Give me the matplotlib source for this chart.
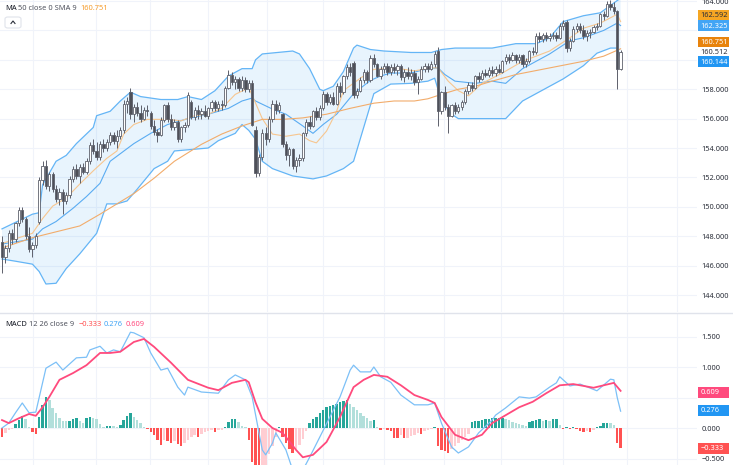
import matplotlib
matplotlib.use('Agg')
import numpy as np
import matplotlib.pyplot as plt
from matplotlib.lines import Line2D
from matplotlib.patches import Rectangle, FancyBboxPatch
from matplotlib.ticker import FuncFormatter

plt.rcParams['font.family'] = ['Noto Sans', 'DejaVu Sans']

# candles (one per bar, left to right)
opens = [
    147.6, 146.6, 147.2, 148.2, 147.8, 148.9, 149.8, 149.2, 148.0, 147.1,
    147.4, 149.0, 151.8, 152.8, 151.4, 152.2, 151.2, 150.5, 151.0, 150.4,
    150.8, 151.9, 152.6, 152.1, 152.7, 152.4, 153.1, 154.2, 153.8, 153.4,
    154.3, 154.0, 154.4, 154.9, 154.5, 154.8, 155.2, 157.0, 157.8, 156.3,
    156.8, 156.4, 156.0, 156.6, 156.4, 155.5, 155.1, 154.9, 155.9, 156.9,
    156.0, 155.4, 155.8, 154.6, 155.4, 155.6, 157.1, 156.1, 156.6, 156.3,
    156.5, 156.2, 156.7, 157.1, 156.7, 157.0, 156.9, 158.1, 159.0, 158.5,
    158.7, 158.1, 158.6, 158.0, 158.4, 155.2, 152.3, 153.4, 155.0, 154.6,
    156.0, 157.0, 156.6, 156.3, 154.3, 153.5, 153.9, 152.8, 153.2, 153.3,
    155.0, 155.8, 155.5, 156.5, 156.1, 156.7, 157.7, 157.1, 157.5, 157.0,
    158.2, 157.8, 158.9, 159.5, 159.8, 157.6, 157.9, 158.6, 159.2, 158.6,
    160.1, 159.7, 158.9, 159.4, 159.6, 159.2, 159.5, 159.3, 159.6, 158.8,
    159.2, 158.9, 159.1, 158.5, 158.7, 159.4, 159.6, 159.4, 159.7, 160.6,
    156.5, 157.8, 156.8, 156.2, 156.9, 156.5, 156.8, 157.1, 157.9, 158.3,
    158.1, 158.9, 158.7, 159.1, 159.0, 159.3, 159.1, 159.4, 159.2, 159.9,
    160.2, 160.0, 160.3, 160.0, 160.3, 159.7, 159.9, 160.6, 160.5, 161.6,
    161.4, 161.7, 161.5, 161.6, 161.7, 161.5, 162.3, 162.6, 160.8, 161.3,
    162.1, 162.3, 162.0, 161.6, 161.8, 161.9, 162.2, 162.3, 163.1, 163.0,
    163.8, 163.6, 163.3, 159.4,
]
highs = [
    148.0, 147.4, 148.4, 148.5, 149.0, 150.0, 150.0, 149.3, 148.6, 147.6,
    148.2, 152.0, 153.1, 153.2, 152.4, 152.4, 151.5, 151.3, 151.2, 151.0,
    152.1, 152.8, 152.9, 152.9, 153.0, 153.3, 154.4, 154.6, 154.4, 154.5,
    154.6, 154.6, 155.1, 155.1, 155.2, 155.4, 157.3, 157.5, 158.1, 157.0,
    157.1, 156.9, 156.8, 156.9, 156.5, 155.9, 155.3, 156.1, 157.0, 157.1,
    156.3, 156.0, 155.9, 155.5, 155.8, 157.8, 157.3, 156.8, 156.9, 156.7,
    156.9, 156.8, 157.3, 157.3, 157.2, 157.3, 158.2, 159.3, 159.2, 158.9,
    158.8, 158.9, 158.8, 158.6, 158.6, 155.5, 153.6, 155.3, 155.4, 156.2,
    157.3, 157.3, 157.1, 156.4, 154.5, 154.1, 154.0, 153.4, 153.6, 155.1,
    156.0, 156.2, 156.6, 156.8, 156.9, 157.9, 157.8, 157.7, 157.8, 158.4,
    158.5, 159.0, 159.7, 159.8, 159.9, 158.1, 158.8, 159.4, 159.3, 160.3,
    160.4, 159.8, 159.6, 159.8, 159.8, 159.7, 159.8, 159.7, 159.7, 159.4,
    159.5, 159.4, 159.3, 158.9, 159.6, 159.8, 159.8, 159.9, 160.6, 160.9,
    157.9, 158.2, 157.0, 157.0, 157.1, 157.0, 157.3, 158.0, 158.5, 158.5,
    159.0, 159.2, 159.3, 159.4, 159.5, 159.6, 159.6, 159.7, 160.0, 160.4,
    160.4, 160.5, 160.4, 160.4, 160.4, 160.1, 160.7, 160.9, 161.8, 161.9,
    161.8, 161.9, 161.8, 161.9, 161.9, 162.5, 162.7, 162.7, 161.5, 162.3,
    162.5, 162.5, 162.4, 162.0, 162.1, 162.4, 162.5, 163.2, 163.3, 164.0,
    164.1, 163.9, 163.4, 160.7,
]
lows = [
    145.5, 146.2, 146.9, 147.5, 147.6, 148.7, 149.0, 147.8, 146.9, 146.6,
    147.2, 148.8, 151.5, 151.2, 151.1, 151.0, 150.3, 150.1, 149.5, 150.2,
    150.6, 151.7, 151.9, 151.6, 152.2, 152.2, 152.9, 153.6, 153.2, 153.2,
    153.7, 153.8, 154.2, 154.3, 154.0, 154.6, 155.0, 156.4, 156.0, 155.8,
    156.2, 155.8, 155.9, 156.2, 155.3, 154.9, 154.4, 154.8, 155.8, 155.8,
    155.2, 155.2, 154.4, 154.4, 155.1, 155.4, 156.0, 155.9, 156.0, 156.0,
    156.1, 156.0, 156.5, 156.5, 156.5, 156.6, 156.8, 158.0, 158.3, 158.0,
    157.9, 157.9, 157.8, 157.8, 155.5, 152.0, 152.1, 153.2, 154.2, 154.4,
    155.8, 156.3, 156.4, 154.1, 153.2, 152.8, 152.6, 152.4, 152.8, 153.1,
    154.8, 155.3, 155.4, 155.9, 155.9, 156.6, 156.9, 157.0, 156.9, 156.9,
    157.5, 157.7, 158.7, 158.9, 157.4, 157.4, 157.8, 158.4, 158.4, 158.5,
    159.5, 158.8, 158.7, 159.1, 159.0, 159.0, 159.1, 159.0, 158.6, 158.5,
    158.7, 158.6, 158.3, 157.7, 158.6, 159.2, 159.2, 159.3, 159.5, 155.5,
    156.3, 156.6, 155.0, 156.1, 156.3, 156.4, 156.6, 157.0, 157.7, 157.9,
    158.0, 158.5, 158.6, 158.8, 158.8, 158.9, 158.9, 159.1, 159.1, 159.7,
    159.8, 159.9, 159.8, 159.8, 159.5, 159.5, 159.8, 160.3, 160.4, 161.2,
    161.2, 161.3, 161.3, 161.4, 161.3, 161.4, 162.0, 160.5, 160.6, 161.2,
    161.9, 161.8, 161.4, 161.3, 161.5, 161.8, 162.0, 162.2, 162.7, 162.9,
    163.4, 163.1, 158.0, 159.3,
]
closes = [
    146.6, 147.2, 148.2, 147.8, 148.9, 149.8, 149.2, 148.0, 147.1, 147.4,
    148.0, 151.8, 152.8, 151.4, 152.2, 151.2, 150.5, 151.0, 150.4, 150.8,
    151.9, 152.6, 152.1, 152.7, 152.4, 153.1, 154.2, 153.8, 153.4, 154.3,
    154.0, 154.4, 154.9, 154.5, 154.8, 155.2, 157.0, 157.2, 156.3, 156.8,
    156.4, 156.0, 156.6, 156.5, 155.5, 155.1, 154.9, 155.9, 156.9, 156.0,
    155.4, 155.8, 154.6, 155.4, 155.6, 157.6, 156.1, 156.6, 156.3, 156.5,
    156.2, 156.7, 157.1, 156.7, 157.0, 156.9, 158.1, 159.0, 158.5, 158.7,
    158.1, 158.6, 158.0, 158.4, 155.6, 152.3, 153.4, 155.0, 154.6, 156.0,
    157.0, 156.6, 156.9, 154.3, 153.5, 153.9, 152.8, 153.2, 153.3, 155.0,
    155.8, 155.5, 156.5, 156.1, 156.7, 157.7, 157.1, 157.5, 157.0, 158.2,
    157.8, 158.9, 159.5, 159.2, 157.6, 157.9, 158.6, 159.2, 158.6, 160.1,
    159.7, 158.9, 159.4, 159.6, 159.2, 159.5, 159.3, 159.6, 158.8, 159.2,
    158.9, 159.1, 158.5, 158.7, 159.4, 159.6, 159.4, 159.7, 160.4, 156.5,
    157.8, 156.8, 156.2, 156.9, 156.5, 156.8, 157.1, 157.9, 158.3, 158.1,
    158.9, 158.7, 159.1, 159.0, 159.3, 159.1, 159.4, 159.2, 159.9, 160.2,
    160.0, 160.3, 160.0, 160.2, 159.7, 159.9, 160.6, 160.5, 161.6, 161.4,
    161.7, 161.5, 161.6, 161.7, 161.5, 162.3, 162.5, 160.8, 161.3, 162.1,
    162.3, 162.0, 161.6, 161.8, 161.9, 162.2, 162.3, 163.1, 163.0, 163.8,
    163.6, 163.3, 159.4, 160.5,
]

# indicator lines: (bar index, value)
bb_upper_idx = [0, 9, 11, 12, 16, 19, 22, 27, 28, 32, 35, 38, 41, 47, 52, 55, 59, 63, 67, 71,
                74, 75, 77, 86, 88, 91, 94, 95, 98, 101, 104, 105, 109, 113, 121, 127, 130, 134,
                145, 152, 158, 162, 166, 172, 177, 180, 183]
bb_upper = [148.5, 149.5, 149.6, 151.5, 153.1, 153.5, 154.3, 155.4, 156.2, 156.5, 157.2, 157.8,
            157.5, 157.3, 157.3, 157.5, 157.3, 157.9, 158.9, 159.4, 159.4, 160.0, 160.4, 160.6,
            160.4, 159.4, 158.0, 157.9, 158.2, 159.2, 160.8, 161.0, 160.7, 160.6, 160.5, 160.5,
            160.7, 160.8, 160.8, 161.1, 161.1, 161.5, 162.6, 163.0, 163.2, 163.7, 164.2]
bb_lower_idx = [0, 4, 9, 11, 13, 16, 19, 23, 28, 31, 34, 37, 40, 45, 49, 51, 61, 64, 69, 71,
                73, 75, 77, 80, 86, 92, 96, 101, 104, 107, 110, 115, 121, 126, 128, 130, 133, 135,
                145, 149, 154, 162, 166, 172, 176, 180, 182, 183]
bb_lower = [146.45, 146.3, 146.1, 145.6, 144.75, 144.8, 145.8, 146.8, 148.2, 150.2, 150.2, 150.4,
            151.2, 152.6, 153.1, 153.8, 154.0, 154.5, 155.0, 155.6, 155.2, 154.6, 153.1, 152.6,
            152.1, 151.9, 152.1, 152.6, 153.1, 155.4, 157.7, 158.35, 158.4, 158.55, 158.75, 157.2,
            156.3, 156.0, 156.0, 156.0, 157.2, 158.2, 158.7, 159.6, 160.45, 160.8, 160.8, 160.15]
bb_basis_idx = [0, 9, 12, 16, 21, 25, 29, 32, 39, 44, 49, 55, 61, 67, 71, 74, 75, 80, 84, 89,
                92, 95, 99, 104, 109, 112, 115, 121, 126, 129, 131, 134, 140, 145, 149, 154, 162,
                168, 172, 178, 182, 183]
bb_basis = [147.47, 147.8, 148.5, 149.0, 149.9, 150.7, 151.6, 153.1, 154.3, 155.0, 155.6, 156.0,
            156.3, 156.7, 157.2, 157.4, 157.2, 156.65, 156.3, 155.5, 155.0, 155.6, 156.3, 157.7,
            158.6, 158.9, 159.1, 159.1, 159.4, 159.45, 159.0, 158.55, 158.4, 158.55, 158.4, 159.4,
            160.4, 161.3, 161.5, 162.0, 162.5, 162.33]
ma_fast_idx = [0, 5, 9, 12, 15, 19, 23, 27, 31, 34, 36, 39, 43, 49, 53, 57, 61, 65, 69, 73,
               74, 77, 80, 84, 88, 91, 93, 96, 99, 101, 106, 110, 116, 122, 127, 129, 132, 135,
               138, 142, 145, 148, 154, 162, 168, 172, 177, 182, 183]
ma_fast = [147.5, 147.9, 148.2, 149.2, 150.05, 150.6, 151.55, 152.45, 153.3, 153.8, 154.95, 155.6,
           155.95, 155.95, 155.85, 156.2, 156.3, 156.7, 157.65, 158.1, 157.6, 156.0, 154.95, 154.8,
           154.95, 154.5, 154.35, 155.15, 156.5, 157.9, 158.75, 159.35, 159.45, 159.25, 159.45,
           159.45, 158.55, 157.9, 157.55, 158.4, 158.75, 159.1, 159.9, 160.6, 161.5, 162.15,
           162.5, 163.1, 162.6]
ma50_idx = [0, 9, 23, 29, 39, 45, 51, 59, 65, 71, 77, 83, 89, 96, 103, 110, 116, 122, 126, 130,
            135, 140, 145, 152, 162, 172, 178, 182, 183]
ma50 = [147.2, 147.9, 148.7, 149.5, 150.9, 151.95, 153.1, 154.25, 154.95, 155.5, 155.95, 155.95,
        156.05, 156.3, 156.7, 157.05, 157.2, 157.2, 157.35, 157.65, 158.0, 158.2, 158.55, 159.0,
        159.45, 159.9, 160.25, 160.65, 160.75]

# MACD 12 26 9
macd_idx = [0, 2, 4, 6, 8, 10, 13, 16, 18, 22, 25, 26, 29, 31, 33, 35, 38, 39, 42, 44,
            47, 49, 52, 54, 55, 59, 64, 67, 69, 72, 74, 77, 78, 80, 81, 84, 86, 89, 91, 94,
            97, 100, 103, 104, 106, 109, 110, 112, 115, 118, 122, 126, 128, 130, 133, 135, 138,
            141, 145, 146, 149, 153, 156, 158, 162, 164, 165, 168, 171, 176, 180, 181, 182, 183]
macd_vals = [0.0, 0.08, 0.25, 0.41, 0.25, 0.26, 0.98, 1.08, 0.95, 1.15, 1.16, 1.28, 1.34, 1.23,
             1.28, 1.25, 1.57, 1.56, 1.48, 1.23, 0.95, 0.98, 0.67, 0.54, 0.67, 0.59, 0.57, 0.79,
             0.87, 0.79, 0.51, -0.36, -0.44, -0.25, -0.08, -0.36, -0.69, -0.69, -0.48, -0.15,
             0.18, 0.51, 0.95, 1.03, 0.92, 0.92, 1.0, 0.84, 0.75, 0.54, 0.38, 0.38, 0.41, 0.08,
             -0.31, -0.41, -0.31, -0.08, 0.13, 0.21, 0.33, 0.51, 0.49, 0.51, 0.67, 0.74, 0.84,
             0.69, 0.72, 0.61, 0.8, 0.79, 0.5, 0.276]
signal_idx = [0, 2, 5, 8, 10, 12, 14, 17, 21, 25, 29, 32, 35, 39, 42, 45, 50, 55, 61, 64,
              68, 72, 73, 75, 77, 80, 83, 87, 89, 92, 96, 100, 104, 107, 110, 114, 118, 122, 126,
              128, 130, 134, 138, 142, 145, 149, 153, 157, 161, 165, 169, 175, 178, 181, 183]
signal_vals = [0.13, 0.08, 0.16, 0.23, 0.2, 0.34, 0.51, 0.79, 0.9, 1.03, 1.23, 1.23, 1.25, 1.41,
               1.46, 1.33, 1.07, 0.79, 0.66, 0.62, 0.74, 0.79, 0.75, 0.42, 0.15, 0.0, -0.08,
               -0.36, -0.48, -0.44, -0.23, 0.18, 0.67, 0.79, 0.87, 0.84, 0.7, 0.54, 0.46, 0.41,
               0.18, -0.11, -0.2, -0.11, 0.08, 0.21, 0.34, 0.43, 0.57, 0.7, 0.72, 0.66, 0.7, 0.74,
               0.609]
hist = [
    -0.15, -0.08, -0.03, -0.02, 0.07, 0.13, 0.2, 0.14, 0.02, -0.06,
    -0.1, 0.18, 0.38, 0.51, 0.46, 0.32, 0.24, 0.16, 0.12, 0.11,
    0.12, 0.14, 0.16, 0.12, 0.09, 0.16, 0.18, 0.16, 0.14, 0.06,
    0.02, 0.03, 0.04, 0.03, 0.02, 0.05, 0.13, 0.2, 0.24, 0.18,
    0.13, 0.08, 0.02, -0.02, -0.06, -0.12, -0.19, -0.28, -0.2, -0.22,
    -0.25, -0.22, -0.26, -0.3, -0.25, -0.2, -0.15, -0.12, -0.14, -0.1,
    -0.07, -0.05, -0.04, -0.06, -0.04, -0.03, 0.02, 0.1, 0.14, 0.14,
    0.1, 0.04, 0.02, -0.2, -0.55, -0.7, -0.75, -0.7, -0.6, -0.42,
    -0.3, -0.15, 0.02, -0.15, -0.25, -0.35, -0.41, -0.35, -0.28, -0.18,
    -0.05, 0.08, 0.14, 0.18, 0.25, 0.3, 0.34, 0.36, 0.38, 0.4,
    0.42, 0.44, 0.46, 0.4, 0.35, 0.3, 0.24, 0.2, 0.16, 0.12,
    0.13, 0.02, -0.03, -0.02, -0.04, -0.05, -0.16, -0.17, -0.12, -0.17,
    -0.16, -0.13, -0.11, -0.08, -0.1, -0.05, -0.03, -0.02, 0.02, -0.3,
    -0.36, -0.38, -0.41, -0.35, -0.3, -0.25, -0.2, -0.15, -0.1, 0.1,
    0.11, 0.12, 0.13, 0.14, 0.15, 0.16, 0.16, 0.17, 0.17, 0.15,
    0.13, 0.1, 0.08, 0.06, 0.05, 0.04, 0.1, 0.12, 0.13, 0.14,
    0.12, 0.13, 0.11, 0.14, 0.15, 0.05, -0.01, 0.01, -0.01, 0.01,
    -0.02, -0.05, -0.06, -0.05, -0.06, -0.03, 0.01, 0.04, 0.08, 0.09,
    0.08, 0.05, -0.24, -0.333,
]

price_ticks = [144, 146, 148, 150, 152, 154, 156, 158, 160, 162, 164]
macd_ticks = [-0.5, 0.0, 0.5, 1.0, 1.5]
# scale labels that sit under a last-value tag
hidden_ticks = [160, 162, 0.5]
time_grid = [9.2, 27.8, 43.8, 60.9, 78.4, 95, 113, 130.8, 147.6, 166, 184.9, 199.7]

W, H = 733, 465
GRID = '#f0f3fa'
TXT = '#2a2e39'


def fx(px):
    return px / W


def fy(py):
    return 1 - py / H


def scale_fmt(v, pos):
    if any(abs(v - t) < 1e-9 for t in hidden_ticks):
        return ''
    return f'{v:.3f}'.replace('-', '\u2212')


fig = plt.figure(figsize=(W / 100, H / 100), dpi=100)
ax = fig.add_axes([0, fy(312), fx(697), 312 / H])
axm = fig.add_axes([0, 0, fx(697), (H - 313) / H])

for a in (ax, axm):
    for s in a.spines.values():
        s.set_visible(False)
    a.set_xlim(-0.59, 205.6)
    a.set_xticks(time_grid)
    a.set_xticklabels([])
    a.yaxis.tick_right()
    a.tick_params(axis='both', length=0, pad=3, labelsize=5.3, labelcolor=TXT)
    a.grid(True, color=GRID, lw=0.8, zorder=0)
    a.set_axisbelow(True)
    a.yaxis.set_major_formatter(FuncFormatter(scale_fmt))

# ---- price pane ----
ax.set_ylim(164.07 - 312 / 14.7, 164.07)
ax.set_yticks(price_ticks)

ax.fill(np.concatenate([bb_upper_idx, bb_lower_idx[::-1]]),
        np.concatenate([bb_upper, bb_lower[::-1]]),
        color='#2196f3', alpha=0.1, lw=0, zorder=1)
ax.plot(bb_upper_idx, bb_upper, color='#64b5f6', lw=0.9, zorder=2)
ax.plot(bb_lower_idx, bb_lower, color='#64b5f6', lw=0.9, zorder=2)
ax.plot(bb_basis_idx, bb_basis, color='#5aacf2', lw=0.8, zorder=2)
ax.plot(ma_fast_idx, ma_fast, color='#f7c68f', lw=0.8, zorder=2)
ax.plot(ma50_idx, ma50, color='#f2ac6b', lw=0.8, zorder=2)

x = np.arange(len(closes))
o = np.array(opens)
hi = np.array(highs)
lo = np.array(lows)
c = np.array(closes)
up = c >= o
ax.vlines(x, lo, hi, color='#5d606b', lw=0.7, zorder=3)
ax.bar(x, np.maximum(np.abs(c - o), 0.05), bottom=np.minimum(o, c), width=0.68,
       color=np.where(up, 'white', '#4e5058'), edgecolor='#5d606b', linewidth=0.6, zorder=4)

# ---- MACD pane ----
axm.set_ylim(-(H - 428) / 61, (428 - 313) / 61)
axm.set_yticks(macd_ticks)

colors = []
prev = 0.0
for h in hist:
    if h >= 0:
        colors.append('#26a69a' if h >= prev else '#b2dfdb')
    else:
        colors.append('#ff5252' if h < prev else '#ffcdd2')
    prev = h
axm.bar(np.arange(len(hist)), hist, width=0.72, color=colors, lw=0, zorder=2)
axm.plot(macd_idx, macd_vals, color='#7cc0f7', lw=0.9, zorder=3)
axm.plot(signal_idx, signal_vals, color='#ff4a7d', lw=1.3, zorder=4)

# pane separator
fig.add_artist(Line2D([0, 1], [fy(312.5), fy(312.5)], color='#e0e3eb', lw=1))

# legends
fig.text(fx(5), fy(8), 'MA', fontsize=5.4, color='#131722', va='center')
fig.text(fx(18), fy(8), '50 close 0 SMA 9', fontsize=5.4, color='#50535e', va='center')
fig.text(fx(80), fy(8), '160.751', fontsize=5.4, color='#f59c2c', va='center')
fig.add_artist(FancyBboxPatch((fx(5), fy(28)), fx(16), 11 / H,
                              boxstyle='round,pad=0,rounding_size=0.004',
                              transform=fig.transFigure, fc='white', ec='#e0e3eb', lw=0.8))
fig.add_artist(Line2D([fx(11), fx(13), fx(15)], [fy(23.5), fy(21), fy(23.5)],
                      color=TXT, lw=0.8))

fig.text(fx(5), fy(324), 'MACD', fontsize=5.4, color='#131722', va='center')
fig.text(fx(29), fy(324), '12 26 close 9', fontsize=5.4, color='#50535e', va='center')
fig.text(fx(79), fy(324), '\u22120.333', fontsize=5.4, color='#ff5252', va='center')
fig.text(fx(104), fy(324), '0.276', fontsize=5.4, color='#42a5f5', va='center')
fig.text(fx(126), fy(324), '0.609', fontsize=5.4, color='#ff4a7d', va='center')

# last-value tags on the scales
tags = [
    (15.5, '162.592', '#f5a623', TXT),
    (26, '162.325', '#42a5f5', 'white'),
    (42.5, '160.751', '#e8830c', 'white'),
    (52.5, '160.512', 'white', TXT),
    (62, '160.144', '#2196f3', 'white'),
    (392, '0.609', '#ff4a7d', 'white'),
    (410.5, '0.276', '#2196f3', 'white'),
    (448, '\u22120.333', '#ff5252', 'white'),
]
for yc, label, bg, fg in tags:
    fig.add_artist(Rectangle((fx(698), fy(yc + 5.5)), fx(31), 11 / H,
                             transform=fig.transFigure, fc=bg, ec='none'))
    fig.text(fx(700.5), fy(yc), label, fontsize=5.3, color=fg, va='center')

fig.savefig('out.png', dpi=100)
